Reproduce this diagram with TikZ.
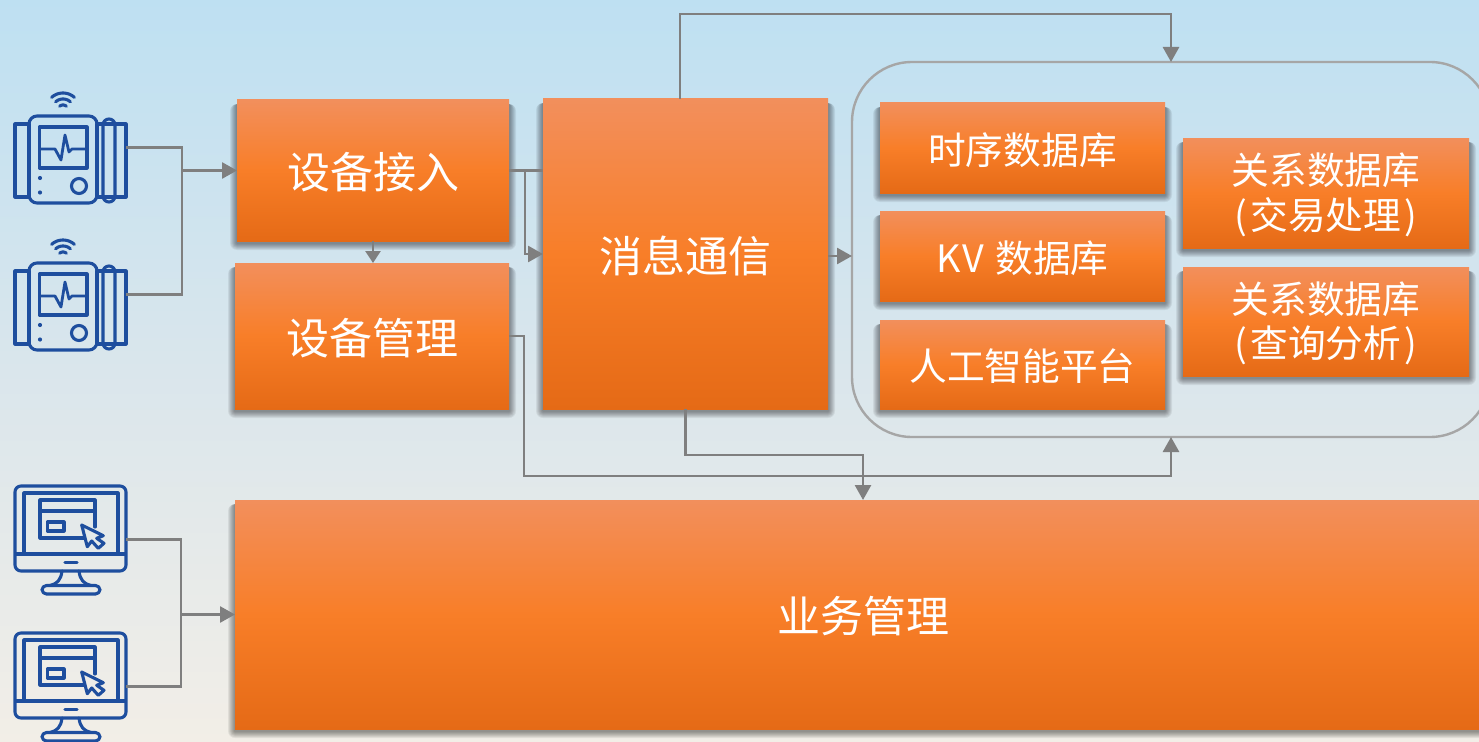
\documentclass[tikz,border=0pt]{standalone}
\usepackage{fontspec}
\setmainfont{Noto Sans CJK SC}
\usetikzlibrary{arrows.meta,calc}
\definecolor{bgtop}{HTML}{BEE0F2}
\definecolor{bgmid}{HTML}{DAE6EC}
\definecolor{bgbot}{HTML}{F2EEE7}
\definecolor{ortop}{HTML}{F28F5C}
\definecolor{ormid}{HTML}{F87E28}
\definecolor{orbot}{HTML}{E56A16}
\definecolor{conncol}{HTML}{7F7F7F}
\definecolor{contcol}{HTML}{A6A6A6}
\definecolor{iconblue}{HTML}{1E4E9E}
\tikzset{
  x=1pt,y=-1pt,
  obox/.style={inner sep=0pt,outer sep=0pt,
    top color=ortop,bottom color=orbot,middle color=ormid},
  conn/.style={draw=conncol,line width=2.7pt},
  arr/.style={conn,-{Triangle[length=15pt,width=16pt]}},
  iconline/.style={draw=iconblue,line width=3.1pt,line join=round,line cap=round},
  iconbox/.style={inner sep=0pt,outer sep=0pt,minimum width=111pt},
  device/.pic={
    \draw[iconline] (15,124) rectangle (29,197);
    \draw[iconline] (97,124) rectangle (126,197);
    \draw[iconline,fill=none,rounded corners=6pt] (103,119) -- (103,202) -- (115,202) -- (115,119) -- cycle;
    \draw[iconline,rounded corners=8pt] (29,116) rectangle (97,203);
    \draw[iconline] (39.5,127) rectangle (87,168);
    \draw[iconline,line width=2.8pt] (39.5,149) -- (55,149) -- (61,160) -- (65,135) -- (69,152) -- (72,149) -- (87,149);
    \fill[iconblue] (40,178) circle[radius=2.1pt] (40,192.5) circle[radius=2.1pt];
    \draw[iconline] (79,186) circle[radius=7.5pt];
    \foreach \r in {17,11,5}{
      \draw[iconline] plot[domain=48:132,samples=15] ({63+\r*cos(\x)},{110-\r*sin(\x)});
    }
  },
  monitor/.pic={
    \draw[iconline,rounded corners=6pt] (15,486) rectangle (126,571);
    \draw[iconline] (24,554) -- (24,493) -- (118,493) -- (118,554);
    \draw[iconline] (16,554) -- (125,554);
    \draw[iconline] (84,538) -- (40,538) -- (40,500) -- (95,500) -- (95,527);
    \draw[iconline] (40,511) -- (95,511);
    \draw[iconline] (47.5,522) rectangle (64,531);
    \draw[iconline] (81.7,525) -- (103.3,535.7) -- (96.7,538.3) -- (104,543.3) -- (98.3,548.3) -- (91.7,541) -- (87.3,546.7) -- cycle;
    \draw[iconline] (65,562.5) -- (77,562.5);
    \draw[iconline] (62,571) .. controls (61,580) and (57,584) .. (50,585.5);
    \draw[iconline] (79,571) .. controls (80,580) and (84,584) .. (91,585.5);
    \draw[iconline,rounded corners=4.5pt] (42,585.5) rectangle (100,594);
  }
}
\newcommand{\softshadow}[4]{%
  \foreach \g in {7,6,5,4,3,2,1}{%
    \fill[black,opacity=0.065,rounded corners=\g pt]
      ({#1-\g},{#2+4}) rectangle ({#3+\g},{#4+\g+2});
  }%
}
\newcommand{\orangebox}[7]{%
  \softshadow{#2}{#3}{#4}{#5}%
  \pgfmathsetmacro{\bw}{#4-(#2)}%
  \pgfmathsetmacro{\bh}{#5-(#3)}%
  \node[obox,minimum width=\bw pt,minimum height=\bh pt,
    label={[font=\fontsize{#6}{44.5}\selectfont,text=white,align=center,yshift=-1.8pt]center:{#7}}]
    (#1) at ({(#2+#4)/2},{(#3+#5)/2}) {};%
}
\newcommand{\lp}{(\kern3pt}
\newcommand{\rp}{\kern3pt)}
\begin{document}
\begin{tikzpicture}
\useasboundingbox (0,0) rectangle (1479,741);
\clip (0,0) rectangle (1479,741);
\fill[top color=bgtop,bottom color=bgbot,middle color=bgmid] (0,0) rectangle (1479,741);

% container
\node[draw=contcol,line width=2.4pt,rounded corners=60pt,minimum width=638pt,minimum height=375pt,inner sep=0pt,outer sep=0pt] (cont) at (1171,249.5) {};

% boxes
\orangebox{access}{237}{100}{509}{241}{43}{设备接入}
\orangebox{mgmt}{235}{263}{509}{409}{43}{设备管理}
\orangebox{msg}{543}{99}{828}{409}{43}{消息通信}
\orangebox{tsdb}{880}{103}{1165}{193}{37.7}{时序数据库}
\orangebox{kvdb}{880}{211}{1165}{301}{37.7}{K\kern1.5pt V\kern3pt\ 数据库}
\orangebox{aiplat}{880}{320}{1165}{409}{37.7}{人工智能平台}
\orangebox{rdba}{1183}{138}{1469}{248}{37.7}{关系数据库\\\lp 交易处理\rp}
\orangebox{rdbb}{1183}{267}{1469}{376}{37.7}{关系数据库\\\lp 查询分析\rp}
\orangebox{biz}{235}{500}{1491}{729}{43}{业务管理}

% icons
\pic at (0,0) {device};
\pic at (0,147) {device};
\pic at (0,0) {monitor};
\pic at (0,147) {monitor};
\node[iconbox,minimum height=112pt] (dev1) at (70.5,147.5) {};
\node[iconbox,minimum height=112pt] (dev2) at (70.5,294.5) {};
\node[iconbox,minimum height=109pt] (mon1) at (70.5,539.5) {};
\node[iconbox,minimum height=109pt] (mon2) at (70.5,686.5) {};

% junctions
\coordinate (j1) at (182,170.5);
\coordinate (j2) at (525,170.5);
\coordinate (j3) at (524,476);
\coordinate (j4) at (863,455);
\coordinate (j5) at (1171,14);
\coordinate (j6) at (181,614.5);
\coordinate (m1) at ([yshift=-2pt]msg.east);
\coordinate (m2) at ([xshift=-5.5pt]msg.north);

% connectors
\draw[conn] (dev1.east) -| (j1) |- (dev2.east);
\draw[arr] (j1) -- (access.west);
\draw[conn] (mon1.east) -| (j6) |- (mon2.east);
\draw[arr] (j6) -- (biz.west);
\draw[arr,-{Triangle[length=12pt,width=15pt]}] (access.south) -- (access.south |- mgmt.north);
\draw[conn] (access.east) -- (access.east -| msg.west);
\draw[arr] (j2) |- (msg.west);
\draw[arr] (m1) -- (m1 -| cont.west);
\draw[arr] (m2) |- (j5) -- (cont.north);
\draw[arr] (msg.south) |- (j4) -- (biz.north);
\draw[arr] (mgmt.east) -| (j3) -| (cont.south);
\end{tikzpicture}
\end{document}
